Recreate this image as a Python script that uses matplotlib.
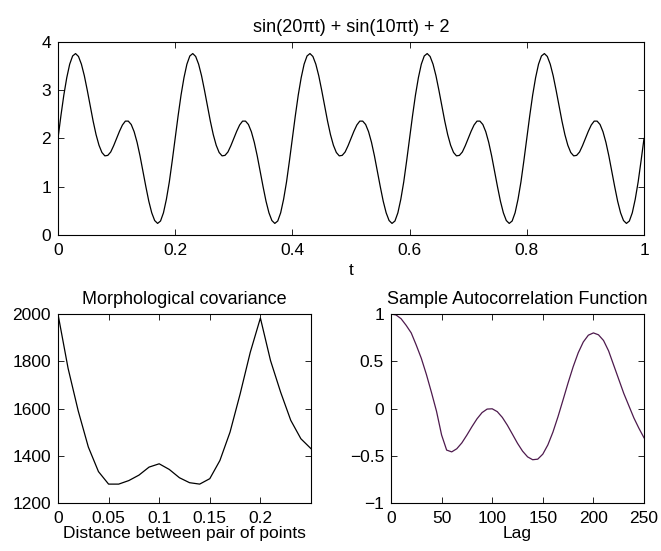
import matplotlib
matplotlib.use("Agg")
import matplotlib.pyplot as plt  # noqa: E402
import numpy as np  # noqa: E402

plt.rcParams["font.family"] = ["Liberation Sans", "DejaVu Sans"]
plt.rcParams["font.size"] = 12.5

# ── data ──
t_vals = np.arange(201) * 0.005
signal = [
    2.00, 2.47, 2.90, 3.26, 3.54, 3.71, 3.76, 3.70, 3.54, 3.30, 3.00, 2.68, 2.36, 2.08, 1.86, 1.71, 1.64, 1.65, 1.72, 1.85,
    2.00, 2.15, 2.28, 2.36, 2.36, 2.29, 2.14, 1.92, 1.64, 1.32, 1.00, 0.70, 0.46, 0.30, 0.24, 0.29, 0.46, 0.74, 1.10, 1.54,
    2.00, 2.47, 2.90, 3.26, 3.54, 3.71, 3.76, 3.70, 3.54, 3.30, 3.00, 2.68, 2.36, 2.08, 1.86, 1.71, 1.64, 1.65, 1.72, 1.85,
    2.00, 2.15, 2.28, 2.36, 2.36, 2.29, 2.14, 1.92, 1.64, 1.32, 1.00, 0.70, 0.46, 0.30, 0.24, 0.29, 0.46, 0.74, 1.10, 1.54,
    2.00, 2.47, 2.90, 3.26, 3.54, 3.71, 3.76, 3.70, 3.54, 3.30, 3.00, 2.68, 2.36, 2.08, 1.86, 1.71, 1.64, 1.65, 1.72, 1.85,
    2.00, 2.15, 2.28, 2.36, 2.36, 2.29, 2.14, 1.92, 1.64, 1.32, 1.00, 0.70, 0.46, 0.30, 0.24, 0.29, 0.46, 0.74, 1.10, 1.54,
    2.00, 2.47, 2.90, 3.26, 3.54, 3.71, 3.76, 3.70, 3.54, 3.30, 3.00, 2.68, 2.36, 2.08, 1.86, 1.71, 1.64, 1.65, 1.72, 1.85,
    2.00, 2.15, 2.28, 2.36, 2.36, 2.29, 2.14, 1.92, 1.64, 1.32, 1.00, 0.70, 0.46, 0.30, 0.24, 0.29, 0.46, 0.74, 1.10, 1.54,
    2.00, 2.47, 2.90, 3.26, 3.54, 3.71, 3.76, 3.70, 3.54, 3.30, 3.00, 2.68, 2.36, 2.08, 1.86, 1.71, 1.64, 1.65, 1.72, 1.85,
    2.00, 2.15, 2.28, 2.36, 2.36, 2.29, 2.14, 1.92, 1.64, 1.32, 1.00, 0.70, 0.46, 0.30, 0.24, 0.29, 0.46, 0.74, 1.10, 1.54,
    2.00,
]

dist = np.arange(26) * 0.01
morph_cov = [2000, 1770, 1590, 1437, 1333, 1280, 1280, 1295, 1318, 1352, 1366, 1342, 1307,
             1286, 1280, 1303, 1380, 1500, 1662, 1838, 1983, 1803, 1669, 1550, 1472, 1430]

lags = np.arange(51) * 5
acf = [1.00, 0.99, 0.95, 0.88, 0.80, 0.67, 0.53, 0.36, 0.17, -0.03,
       -0.28, -0.44, -0.459, -0.426, -0.364, -0.281, -0.192, -0.109, -0.043, -0.006,
       -0.003, -0.033, -0.094, -0.177, -0.272, -0.368, -0.451, -0.512, -0.542, -0.536,
       -0.483, -0.385, -0.250, -0.087, 0.091, 0.272, 0.442, 0.590, 0.704, 0.776,
       0.80, 0.78, 0.72, 0.61, 0.46, 0.31, 0.16, 0.03, -0.10, -0.21, -0.31]

TITLE_FS = 13


def matlab_box(a):
    a.tick_params(direction="in", top=True, right=True, length=4, width=0.6, pad=5)
    a.tick_params(axis="x", pad=6)
    for s in a.spines.values():
        s.set_linewidth(0.8)


fig = plt.figure(figsize=(6.61, 5.51), dpi=100)
ax_top = fig.add_axes([0.0877, 0.5735, 0.8866, 0.3503])
ax_bl = fig.add_axes([0.0877, 0.0871, 0.3828, 0.3430])
ax_br = fig.add_axes([0.5915, 0.0871, 0.3828, 0.3430])

ax_top.plot(t_vals, signal, color="black", lw=0.9)
ax_top.set_xlim(0, 1); ax_top.set_ylim(0, 4)
ax_top.set_xticks([0, 0.2, 0.4, 0.6, 0.8, 1]); ax_top.set_xticklabels(["0", "0.2", "0.4", "0.6", "0.8", "1"])
ax_top.set_yticks([0, 1, 2, 3, 4])
ax_top.set_title("sin(20πt) + sin(10πt) + 2", fontsize=TITLE_FS, pad=7)
ax_top.set_xlabel("t", labelpad=3)
matlab_box(ax_top)

ax_bl.plot(dist, morph_cov, color="black", lw=0.9)
ax_bl.set_xlim(0, 0.25); ax_bl.set_ylim(1200, 2000)
ax_bl.set_xticks([0, 0.05, 0.1, 0.15, 0.2]); ax_bl.set_xticklabels(["0", "0.05", "0.1", "0.15", "0.2"])
ax_bl.set_yticks([1200, 1400, 1600, 1800, 2000])
ax_bl.set_title("Morphological covariance", fontsize=TITLE_FS, pad=7)
ax_bl.set_xlabel("Distance between pair of points", labelpad=0)
matlab_box(ax_bl)

ax_br.plot(lags, acf, color="#4d1a4d", lw=0.9)
ax_br.set_xlim(0, 250); ax_br.set_ylim(-1, 1)
ax_br.set_xticks([0, 50, 100, 150, 200, 250])
ax_br.set_yticks([-1, -0.5, 0, 0.5, 1]); ax_br.set_yticklabels(["\u22121", "\u22120.5", "0", "0.5", "1"])
ax_br.set_title("Sample Autocorrelation Function", fontsize=TITLE_FS, pad=7)
ax_br.set_xlabel("Lag", labelpad=0)
matlab_box(ax_br)

fig.savefig("out.png", dpi=100)
